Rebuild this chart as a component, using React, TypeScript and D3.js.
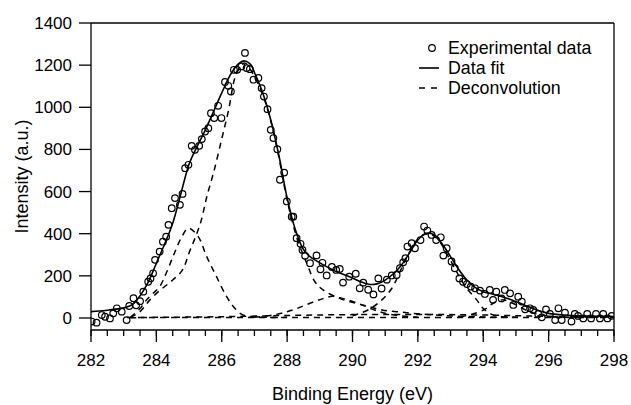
import * as d3 from "d3";
import React from "react";

// experimental points (binding energy eV, intensity a.u.)
const expEnergy = [
  282.02, 282.17, 282.33, 282.43, 282.58, 282.68, 282.79, 282.94, 283.09, 283.17,
  283.3, 283.38, 283.5, 283.6, 283.75, 283.82, 283.9, 283.96, 284.1, 284.2,
  284.3, 284.37, 284.47, 284.57, 284.72, 284.8, 284.88, 284.98, 285.08, 285.18,
  285.31, 285.39, 285.49, 285.59, 285.67, 285.77, 285.89, 285.99, 286.1, 286.2,
  286.28, 286.37, 286.47, 286.6, 286.71, 286.76, 286.86, 286.97, 287.12, 287.22,
  287.29, 287.4, 287.5, 287.58, 287.7, 287.78, 287.91, 287.99, 288.14, 288.19,
  288.29, 288.41, 288.47, 288.55, 288.7, 288.9, 289.02, 289.08, 289.21, 289.37,
  289.5, 289.61, 289.71, 289.9, 290.1, 290.22, 290.33, 290.48, 290.64, 290.79,
  290.89, 291.05, 291.2, 291.35, 291.45, 291.55, 291.62, 291.68, 291.81, 291.91,
  292.08, 292.19, 292.29, 292.42, 292.56, 292.7, 292.78, 292.88, 293.03, 293.13,
  293.27, 293.38, 293.5, 293.62, 293.75, 293.9, 294.05, 294.2, 294.3, 294.4,
  294.56, 294.66, 294.82, 294.92, 295.07, 295.18, 295.28, 295.43, 295.53, 295.68,
  295.79, 295.92, 296.04, 296.2, 296.3, 296.4, 296.5, 296.7, 296.8, 296.9,
  297.06, 297.18, 297.3, 297.45, 297.57, 297.67, 297.8, 297.93,
];
const expIntensity = [
  -17, -22, 14, 6, -2, 22, 46, 30, -10, 57,
  94, 60, 80, 125, 172, 188, 212, 276, 315, 362,
  386, 442, 521, 569, 537, 589, 711, 727, 817, 798,
  817, 849, 885, 901, 972, 949, 1007, 949, 1120, 1102,
  1075, 1178, 1178, 1194, 1258, 1186, 1181, 1131, 1139, 1091,
  1051, 991, 893, 854, 801, 656, 690, 553, 481, 481,
  379, 352, 323, 295, 260, 297, 231, 262, 202, 242,
  228, 233, 168, 196, 210, 141, 168, 134, 112, 188,
  140, 182, 202, 204, 236, 264, 284, 339, 355, 331,
  370, 434, 415, 394, 370, 383, 296, 331, 268, 236,
  188, 172, 161, 149, 141, 130, 114, 133, 86, 125,
  93, 133, 117, 62, 101, 78, 41, 46, 38, 19,
  3, 41, 19, -10, 46, -10, 25, -17, 19, 10,
  -2, 19, -2, 19, -2, 19, -2, 10,
];

// fitted envelope
const fitEnergy = [
  282, 282.25, 282.5, 282.75, 283, 283.25, 283.5, 283.75, 284, 284.25,
  284.5, 284.75, 285, 285.25, 285.5, 285.75, 286, 286.25, 286.5, 286.7,
  286.9, 287, 287.25, 287.5, 287.75, 288, 288.25, 288.5, 288.75, 289,
  289.25, 289.5, 289.75, 290, 290.25, 290.5, 290.75, 291, 291.25, 291.5,
  291.75, 292, 292.25, 292.5, 292.75, 293, 293.25, 293.5, 293.75, 294,
  294.25, 294.5, 294.75, 295, 295.25, 295.5, 295.75, 296, 296.5, 297,
  297.5, 298,
];
const fitIntensity = [
  30, 33, 37, 42, 48, 62, 105, 170, 260, 350,
  450, 590, 730, 815, 893, 980, 1068, 1150, 1205, 1220,
  1200, 1165, 1070, 940, 770, 570, 420, 325, 285, 262,
  240, 220, 205, 190, 172, 160, 162, 180, 210, 252,
  310, 370, 402, 395, 350, 291, 230, 180, 145, 125,
  115, 104, 92, 78, 62, 46, 32, 22, 14, 10,
  8, 7,
];

// deconvolution components
const peakAEnergy = [
  283.2, 283.5, 283.8, 284.1, 284.5, 284.8, 285, 285.2, 285.35, 285.45,
  285.55, 285.75, 286, 286.2, 286.45, 286.7, 286.95, 287.25, 287.5, 287.75,
  288, 288.3, 288.6, 288.85, 289.1, 289.6, 290.1, 290.5, 290.9, 291.35,
  292, 293, 294, 295,
];
const peakAIntensity = [
  3, 30, 86, 130, 180, 228, 309, 386, 451, 513,
  580, 690, 850, 980, 1160, 1210, 1160, 1060, 935, 760,
  560, 380, 260, 172, 133, 93, 70, 54, 38, 30,
  20, 10, 5, 3,
];
const peakBEnergy = [
  283.2, 283.5, 283.7, 283.9, 284.1, 284.3, 284.55, 284.78, 284.98, 285.28,
  285.54, 285.84, 286.15, 286.4, 286.65, 287, 288,
];
const peakBIntensity = [
  3, 45, 86, 117, 149, 212, 307, 386, 426, 386,
  291, 196, 101, 46, 14, 5, 3,
];
const peakCEnergy = [
  287, 287.6, 288, 288.3, 288.7, 289.1, 289.4, 289.8, 290.2, 290.6,
  291, 291.5, 292,
];
const peakCIntensity = [3, 15, 30, 45, 70, 92, 103, 88, 68, 42, 22, 10, 4];
const peakDEnergy = [
  290, 290.5, 290.9, 291.2, 291.5, 291.7, 292, 292.3, 292.6, 292.9,
  293.2, 293.45, 293.8, 294, 294.3, 294.7, 295.2,
];
const peakDIntensity = [
  10, 40, 86, 140, 236, 300, 375, 400, 375, 300,
  215, 150, 86, 45, 15, 5, 3,
];
const peakEEnergy = [293.3, 293.8, 294.1, 294.3, 294.6, 294.9, 295.15, 295.4, 295.8, 296.3, 297];
const peakEIntensity = [5, 25, 46, 70, 86, 70, 50, 30, 14, 5, 3];
const broadEnergy = [283.2, 284, 286, 288, 290, 292, 294, 296, 298];
const broadIntensity = [1, 3, 6, 12, 16, 17, 14, 8, 4];
const baseEnergy = [283.1, 298];
const baseIntensity = [2, 2];

const xTicks = [282, 284, 286, 288, 290, 292, 294, 296, 298];
const yTicks = [0, 200, 400, 600, 800, 1000, 1200, 1400];
const legendLabels = ["Experimental data", "Data fit", "Deconvolution"];

const W = 631;
const H = 405;
const left = 91;
const right = 614;
const top = 23;
const bottom = 330;
const font = "'Liberation Sans', Arial, sans-serif";

const App = () => {
  const x = d3.scaleLinear().domain([282, 298]).range([left, right]);
  const y = d3.scaleLinear().domain([-57, 1400]).range([bottom, top]);

  const line = d3
    .line<number>()
    .x((d) => x(d))
    .curve(d3.curveCatmullRom.alpha(0.5));

  const path = (xs: number[], ys: number[]) =>
    line.y((_, i) => y(ys[i]))(xs) || "";

  const components = [
    [peakAEnergy, peakAIntensity],
    [peakBEnergy, peakBIntensity],
    [peakCEnergy, peakCIntensity],
    [peakDEnergy, peakDIntensity],
    [peakEEnergy, peakEIntensity],
    [broadEnergy, broadIntensity],
    [baseEnergy, baseIntensity],
  ];

  const minorTicks = x.ticks(32);

  return (
    <svg
      width={W}
      height={H}
      style={{ position: "absolute", left: 0, top: 0, background: "#fff" }}
      fontFamily={font}
    >
      <defs>
        <clipPath id="plotClip">
          <rect x={left} y={top} width={right - left} height={bottom - top} />
        </clipPath>
      </defs>

      <g clipPath="url(#plotClip)" fill="none" stroke="#000">
        {components.map(([xs, ys], i) => (
          <path key={i} d={path(xs, ys)} strokeWidth={1.5} strokeDasharray="6,5" />
        ))}
        <path d={path(fitEnergy, fitIntensity)} strokeWidth={1.6} />
        {expEnergy.map((e, i) => (
          <circle key={i} cx={x(e)} cy={y(expIntensity[i])} r={3.3} strokeWidth={1.2} />
        ))}
      </g>

      {/* frame */}
      <g stroke="#000" strokeWidth={1.3} fill="none">
        <line x1={left} x2={right} y1={top} y2={top} />
        <line x1={right} x2={right} y1={top} y2={bottom} />
        <line x1={left} x2={right} y1={bottom} y2={bottom} />
        <line x1={left} x2={left} y1={top} y2={bottom} />
        {minorTicks.map((t) => (
          <line key={"m" + t} x1={x(t)} x2={x(t)} y1={bottom} y2={bottom + 6} />
        ))}
        {xTicks.map((t) => (
          <line key={"x" + t} x1={x(t)} x2={x(t)} y1={bottom} y2={bottom + 12} />
        ))}
        {yTicks.map((t) => (
          <line key={"y" + t} x1={left - 12} x2={left} y1={y(t)} y2={y(t)} />
        ))}
      </g>

      <g fontSize={17} fill="#000">
        {xTicks.map((t) => (
          <text key={t} x={x(t)} y={366} textAnchor="middle">
            {t}
          </text>
        ))}
        {yTicks.map((t) => (
          <text key={t} x={left - 19} y={y(t) + 6} textAnchor="end">
            {t}
          </text>
        ))}
      </g>

      <text x={(left + right) / 2} y={400} textAnchor="middle" fontSize={18}>
        Binding Energy (eV)
      </text>
      <text
        transform={`translate(28,${(top + bottom) / 2}) rotate(-90)`}
        textAnchor="middle"
        fontSize={18}
      >
        Intensity (a.u.)
      </text>

      {/* legend */}
      <g fontSize={17.8}>
        <circle cx={432} cy={48} r={3.3} fill="none" stroke="#000" strokeWidth={1.2} />
        <line x1={419} x2={439} y1={68} y2={68} stroke="#000" strokeWidth={1.6} />
        <line x1={419} x2={441} y1={88} y2={88} stroke="#000" strokeWidth={1.5} strokeDasharray="6,6" />
        {legendLabels.map((l, i) => (
          <text key={l} x={448} y={54 + i * 20}>
            {l}
          </text>
        ))}
      </g>
    </svg>
  );
};

export default App;
